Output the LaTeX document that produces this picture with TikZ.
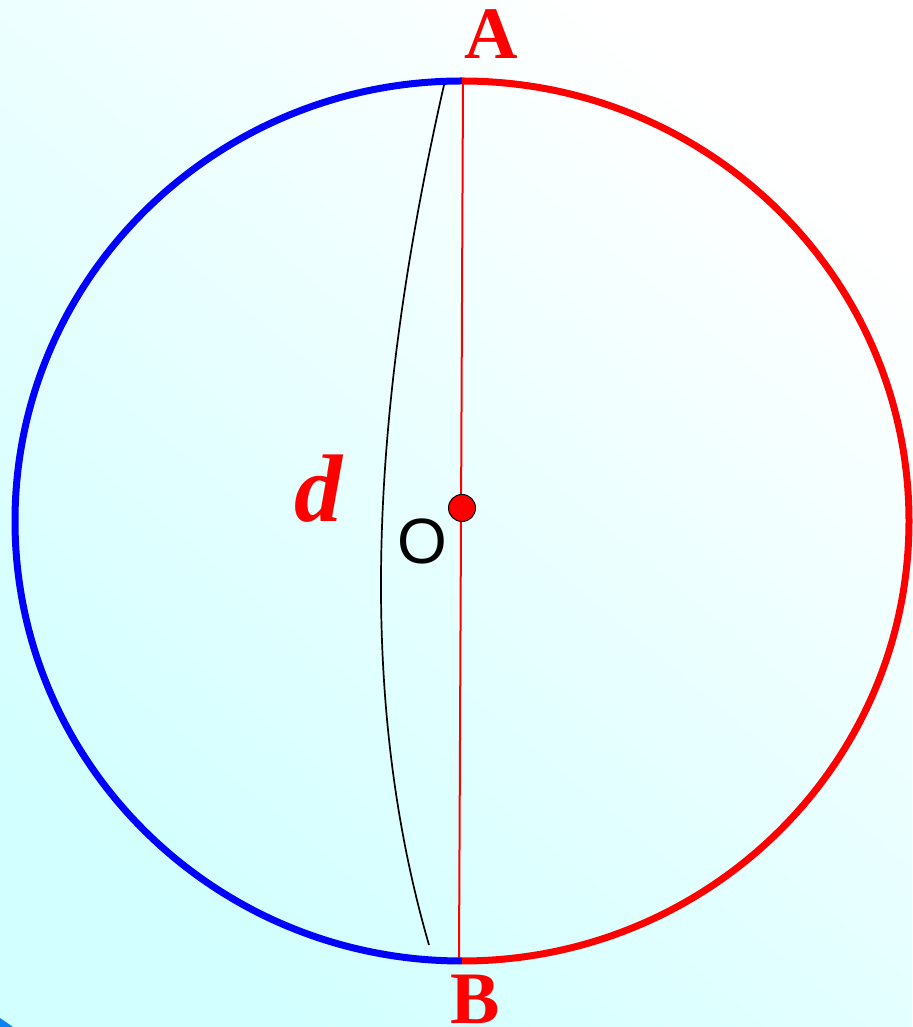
\documentclass[tikz,border=0pt]{standalone}
\usepackage{fontspec}
\setmainfont{Liberation Serif}
\newfontfamily\labelsans{Liberation Sans}
\usepackage{xcolor}
\usepackage{tikz}
\usetikzlibrary{calc}
\definecolor{pureRed}{HTML}{FF0000}
\definecolor{pureBlue}{HTML}{0000FF}
\definecolor{paleCyan}{HTML}{D2FFFF}
\definecolor{cornerBlue}{HTML}{0A84F0}
\tikzset{
  halfarc/.style={line width=7pt},
  ptlabel/.style={font=\fontsize{74}{74}\selectfont\bfseries,text=pureRed,inner sep=0pt},
  dlabel/.style={font=\fontsize{96}{96}\selectfont\bfseries\itshape,text=pureRed,inner sep=0pt},
  olabel/.style={font=\labelsans\fontsize{64}{64}\selectfont,text=black,inner sep=0pt},
  centredot/.style={circle,fill=pureRed,draw=black,line width=1pt,minimum size=27pt,inner sep=0pt},
  diam/.style={draw=pureRed,line width=2pt},
  chordcurve/.style={draw=black,line width=1.7pt}
}
\begin{document}
\begin{tikzpicture}[x=1pt,y=1pt]
  % background
  \useasboundingbox (0,0) rectangle (912,1027);
  \shade[top color=white,bottom color=paleCyan,shading angle=-40] (0,0) rectangle (912,1027);
  \fill[cornerBlue] (0,0) -- (13,0) -- (0,9) -- cycle;

  \coordinate (ctr) at (461.5,506);
  \coordinate (top) at (462,946);
  \coordinate (bot) at (462,66);

  % circle in two halves
  \draw[halfarc,pureBlue] (top) arc[start angle=90,end angle=270,x radius=447,y radius=440];
  \draw[halfarc,pureRed] (bot) arc[start angle=-90,end angle=90,x radius=447,y radius=440];

  % diameter and the curved path
  \coordinate (dtop) at (463,945);
  \coordinate (dbot) at (459,69);
  \draw[diam] (dtop) -- (dbot);
  \coordinate (ctop) at (444,942);
  \coordinate (cbot) at (429,82);
  \draw[chordcurve] (ctop) .. controls (368,607) and (358,327) .. (cbot);

  \node[centredot] (O) at (462,519) {};
  \node[olabel] (olab) at (422,486) {O};
  \node[dlabel] (dlab) at (318,538) {d};
  \node[ptlabel] (A) at (491,993) {A};
  \node[ptlabel] (B) at (475,28) {B};
\end{tikzpicture}
\end{document}
